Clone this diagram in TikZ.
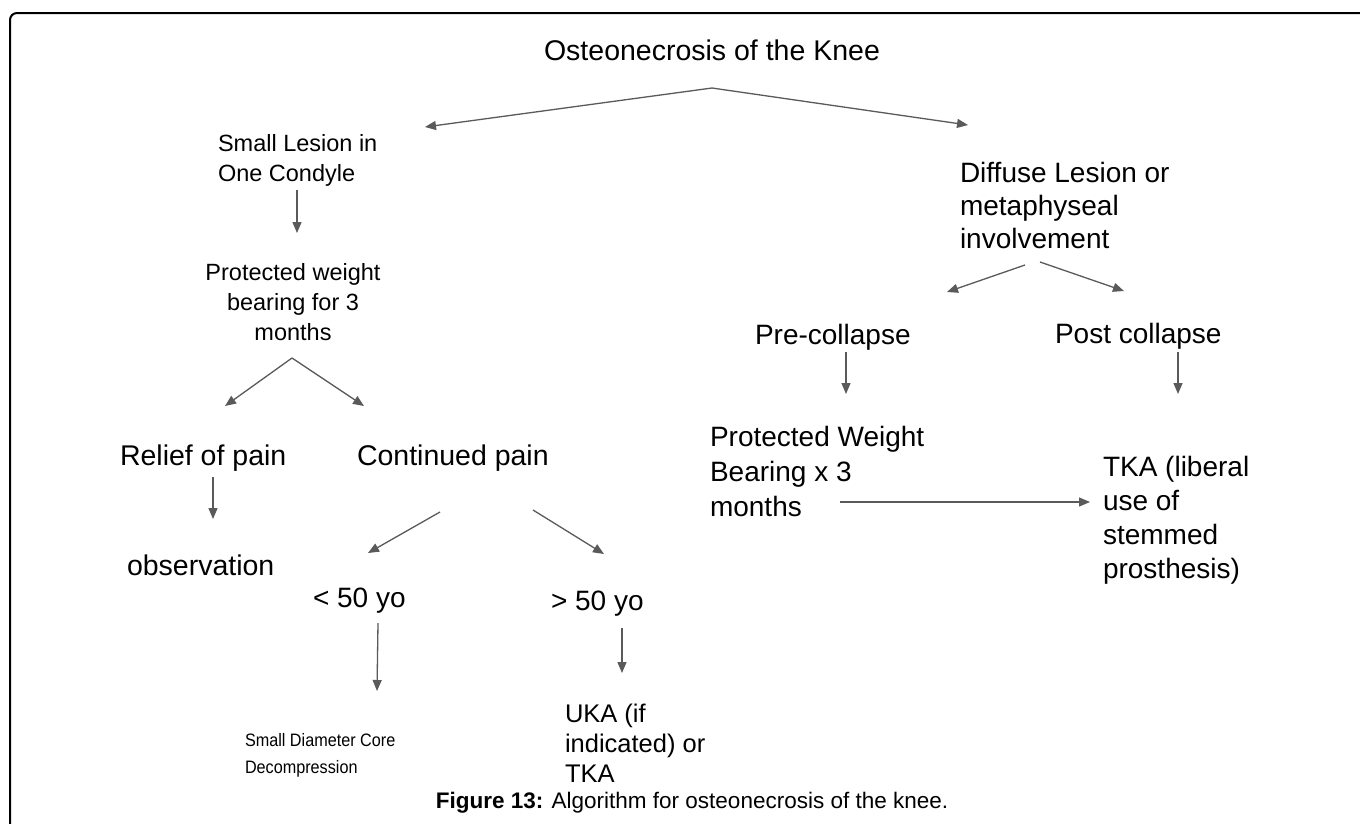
\documentclass[tikz,border=0pt]{standalone}
\usepackage{fontspec}
\setmainfont{Liberation Sans}
\newfontfamily\narrowfont[FakeStretch=0.9]{Liberation Sans}
\usetikzlibrary{arrows.meta}
\definecolor{arrowgray}{HTML}{5A5A5A}
\tikzset{
  lbl/.style={inner sep=0pt, outer sep=0pt, text=black},
  arr/.style={draw=arrowgray, line width=1.3pt, -{Triangle[length=11pt,width=9pt]}},
  frameline/.style={draw=black, line width=2pt, rounded corners=7pt}
}
\begin{document}
\begin{tikzpicture}[x=1pt,y=-1pt]
\useasboundingbox (0,0) rectangle (1360,823);
\fill[white] (0,0) rectangle (1360,823);
\draw[frameline] (10,830) -- (10,13) -- (1370,13);

% nodes
\node[lbl, anchor=base, font={\fontsize{28.5}{33}\selectfont}] (title) at (712,60) {Osteonecrosis of the Knee};
\node[lbl, anchor=north west, align=left, font={\fontsize{23.5}{30}\selectfont}] (small) at (218,134) {Small Lesion in\\One Condyle};
\node[lbl, anchor=north, align=center, font={\fontsize{23.5}{30}\selectfont}] (pwb) at (293,263) {Protected weight\\bearing for 3\\months};
\node[lbl, anchor=base west, font={\fontsize{28.5}{33}\selectfont}] (relief) at (120,465) {Relief of pain};
\node[lbl, anchor=base west, font={\fontsize{28.5}{33}\selectfont}] (cont) at (357,465) {Continued pain};
\node[lbl, anchor=base west, font={\fontsize{28.5}{33}\selectfont}] (obs) at (127,575) {observation};
\node[lbl, anchor=base west, font={\fontsize{28}{33}\selectfont}] (lt) at (313,607) {< 50 yo};
\node[lbl, anchor=base west, font={\fontsize{28}{33}\selectfont}] (gt) at (551,610) {> 50 yo};
\node[lbl, anchor=north west, align=left, font={\narrowfont\fontsize{18}{27}\selectfont}] (core) at (245,733) {Small Diameter Core\\Decompression};
\node[lbl, anchor=north west, align=left, font={\fontsize{25.5}{30}\selectfont}] (uka) at (565,704) {UKA (if\\indicated) or\\TKA};

\node[lbl, anchor=north west, align=left, font={\fontsize{28}{33}\selectfont}] (diffuse) at (960,162) {Diffuse Lesion or\\metaphyseal\\involvement};
\node[lbl, anchor=base west, font={\fontsize{28}{33}\selectfont}] (pre) at (755,344) {Pre-collapse};
\node[lbl, anchor=base west, font={\fontsize{28}{33}\selectfont}] (post) at (1055,343) {Post collapse};
\node[lbl, anchor=north west, align=left, font={\fontsize{28}{35}\selectfont}] (pwbr) at (710,426) {Protected Weight\\Bearing x 3\\months};
\node[lbl, anchor=north west, align=left, font={\fontsize{28}{34}\selectfont}] (tka) at (1103,456) {TKA (liberal\\use of\\stemmed\\prosthesis)};

\node[lbl, anchor=base, font={\fontsize{22.5}{28}\selectfont}] (caption) at (692,808) {\textbf{Figure 13:} Algorithm for osteonecrosis of the knee.};

% connector end points
\coordinate (tA) at (712,88);
\coordinate (tL) at (425,127);
\coordinate (tR) at (968,125);
\coordinate (sA) at (297,190);
\coordinate (sB) at (297,233);
\coordinate (pA) at (292,358);
\coordinate (pL) at (225,406);
\coordinate (pR) at (364,406);
\coordinate (rA) at (213,477);
\coordinate (rB) at (213,519);
\coordinate (cA) at (440,512);
\coordinate (cL) at (368,553);
\coordinate (cA2) at (533,510);
\coordinate (cR) at (604,554);
\coordinate (lA) at (378,623);
\coordinate (lB) at (377,691);
\coordinate (gA) at (622,628);
\coordinate (gB) at (622,673);
\coordinate (dA) at (1025,265);
\coordinate (dL) at (947,292);
\coordinate (dA2) at (1040,262);
\coordinate (dR) at (1124,291);
\coordinate (prA) at (846,352);
\coordinate (prB) at (846,394);
\coordinate (poA) at (1178,352);
\coordinate (poB) at (1178,394);
\coordinate (wA) at (840,502);
\coordinate (wB) at (1090,502);

% connectors
\draw[arr] (tA) -- (tL);
\draw[arr] (tA) -- (tR);
\draw[arr] (sA) -- (sB);
\draw[arr] (pA) -- (pL);
\draw[arr] (pA) -- (pR);
\draw[arr] (rA) -- (rB);
\draw[arr] (cA) -- (cL);
\draw[arr] (cA2) -- (cR);
\draw[arr] (lA) -- (lB);
\draw[arr] (gA) -- (gB);
\draw[arr] (dA) -- (dL);
\draw[arr] (dA2) -- (dR);
\draw[arr] (prA) -- (prB);
\draw[arr] (poA) -- (poB);
\draw[arr] (wA) -- (wB);
\end{tikzpicture}
\end{document}
